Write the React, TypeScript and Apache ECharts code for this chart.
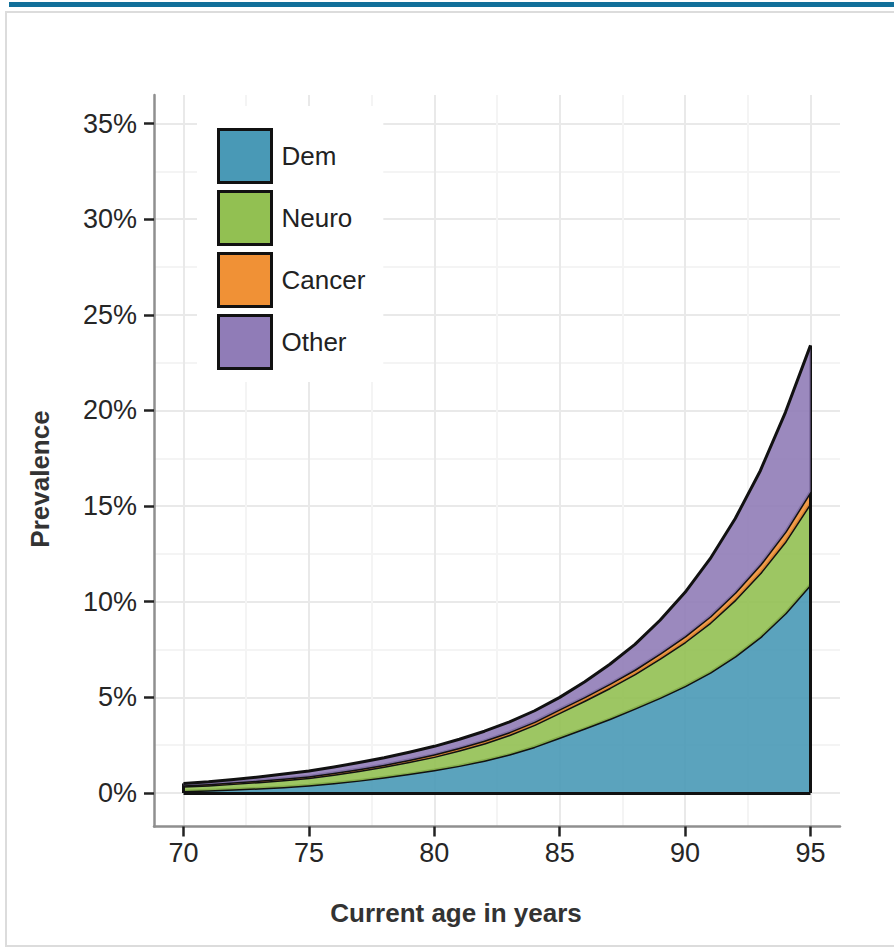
import { useEffect, useRef } from 'react';
import * as echarts from 'echarts';

// Age (years) on the x axis
const ages = ['70', '71', '72', '73', '74', '75', '76', '77', '78', '79', '80', '81', '82', '83', '84', '85', '86', '87', '88', '89', '90', '91', '92', '93', '94', '95'];
// Prevalence (%) of each layer, stacked in this order
const dem = [0.10, 0.14, 0.19, 0.25, 0.32, 0.40, 0.52, 0.66, 0.82, 1.00, 1.20, 1.43, 1.70, 2.02, 2.42, 2.90, 3.38, 3.88, 4.42, 4.98, 5.60, 6.30, 7.15, 8.15, 9.40, 10.90];
const neuro = [0.25, 0.27, 0.30, 0.33, 0.36, 0.40, 0.45, 0.50, 0.56, 0.63, 0.70, 0.80, 0.90, 1.02, 1.15, 1.30, 1.45, 1.62, 1.80, 2.05, 2.30, 2.60, 2.95, 3.35, 3.75, 4.25];
const cancer = [0.06, 0.06, 0.07, 0.07, 0.08, 0.08, 0.09, 0.10, 0.10, 0.11, 0.12, 0.13, 0.14, 0.15, 0.16, 0.18, 0.19, 0.21, 0.23, 0.26, 0.29, 0.33, 0.38, 0.44, 0.51, 0.60];
const other = [0.09, 0.12, 0.15, 0.19, 0.23, 0.27, 0.30, 0.33, 0.36, 0.39, 0.42, 0.45, 0.49, 0.53, 0.57, 0.62, 0.80, 1.02, 1.32, 1.74, 2.30, 3.02, 3.87, 4.91, 6.24, 7.65];

const seriesNames = ['Dem', 'Neuro', 'Cancer', 'Other'];
const seriesColors = ['#4999b6', '#92c052', '#f09136', '#907cb7'];
const xTicks = { min: 70, max: 95, step: 5 };
const yTicks = { min: 0, max: 35, step: 5 };

export default function App() {
  const ref = useRef<HTMLDivElement>(null);
  useEffect(() => {
    const chart = echarts.init(ref.current!, null, { renderer: 'svg' });
    const font = '"Liberation Sans", Arial, Helvetica, sans-serif';
    const layers = [dem, neuro, cancer, other];
    const last = ages.length - 1;
    const total0 = layers.reduce((s, a) => s + a[0], 0);
    const totalN = layers.reduce((s, a) => s + a[last], 0);

    const panel = { left: 154, top: 95, width: 686, height: 731.5 };
    const inner = { left: 183.5, top: 123.5, width: 627, height: 669.5 };

    const series: any[] = layers.map((vals, k) => ({
      type: 'line',
      name: seriesNames[k],
      stack: 'total',
      xAxisIndex: 3,
      yAxisIndex: 3,
      data: vals.slice(),
      symbol: 'none',
      showSymbol: false,
      smooth: false,
      color: seriesColors[k],
      lineStyle: { color: '#111', width: 3, join: 'round' },
      areaStyle: { color: seriesColors[k], opacity: 0.9 },
      emphasis: { disabled: true },
      silent: true,
      z: 2 + k,
    }));
    series[3].markLine = {
      silent: true,
      symbol: ['none', 'none'],
      label: { show: false },
      emphasis: { disabled: true },
      lineStyle: { color: '#111', width: 3, type: 'solid' },
      data: [
        [{ coord: [ages[0], 0] }, { coord: [ages[last], 0] }],
        [{ coord: [ages[last], 0] }, { coord: [ages[last], totalN] }],
        [{ coord: [ages[0], 0] }, { coord: [ages[0], total0] }],
      ],
    };

    const hidden = { show: false };

    const option: any = {
      animation: false,
      backgroundColor: '#ffffff',
      textStyle: { fontFamily: font },
      grid: [
        { ...panel },
        { left: panel.left, width: panel.width, top: inner.top, height: inner.height },
        { left: inner.left, width: inner.width, top: panel.top, height: panel.height },
        { ...inner },
      ],
      xAxis: [
        {
          gridIndex: 0, type: 'value', min: 0, max: 1,
          axisLine: { show: true, onZero: false, lineStyle: { color: '#8f8f8f', width: 2.5 } },
          axisTick: hidden, axisLabel: hidden, splitLine: hidden,
        },
        { gridIndex: 1, type: 'value', min: 0, max: 1, show: false },
        {
          gridIndex: 2, type: 'value', min: xTicks.min, max: xTicks.max, interval: xTicks.step,
          axisLine: { show: false },
          axisTick: { show: true, length: 10, lineStyle: { color: '#222', width: 2.5 } },
          axisLabel: { show: true, fontSize: 27, color: '#262626', margin: 13, fontFamily: font },
          splitLine: { show: true, lineStyle: { color: '#e9e9e9', width: 2 } },
          minorTick: { show: false, splitNumber: 2 },
          minorSplitLine: { show: true, lineStyle: { color: '#f4f4f4', width: 2 } },
        },
        { gridIndex: 3, type: 'category', data: ages, boundaryGap: false, show: false },
      ],
      yAxis: [
        {
          gridIndex: 0, type: 'value', min: 0, max: 1,
          axisLine: { show: true, onZero: false, lineStyle: { color: '#8f8f8f', width: 2.5 } },
          axisTick: hidden, axisLabel: hidden, splitLine: hidden,
        },
        {
          gridIndex: 1, type: 'value', min: yTicks.min, max: yTicks.max, interval: yTicks.step,
          axisLine: { show: false },
          axisTick: { show: true, length: 10, lineStyle: { color: '#222', width: 2.5 } },
          axisLabel: { show: true, fontSize: 27, color: '#262626', margin: 17, fontFamily: font, formatter: '{value}%' },
          splitLine: { show: true, lineStyle: { color: '#e9e9e9', width: 2 } },
          minorTick: { show: false, splitNumber: 2 },
          minorSplitLine: { show: true, lineStyle: { color: '#f4f4f4', width: 2 } },
        },
        { gridIndex: 2, type: 'value', min: 0, max: 1, show: false },
        { gridIndex: 3, type: 'value', min: yTicks.min, max: yTicks.max, show: false },
      ],
      legend: {
        orient: 'vertical',
        left: 197,
        top: 106,
        padding: [22, 18, 12, 20],
        backgroundColor: '#ffffff',
        itemWidth: 53,
        itemHeight: 53,
        itemGap: 6,
        icon: 'rect',
        selectedMode: false,
        textStyle: { fontSize: 26, color: '#222', fontFamily: font, padding: [0, 0, 0, 5] },
        data: seriesNames.map((n, k) => ({
          name: n,
          itemStyle: { color: seriesColors[k], borderColor: '#111', borderWidth: 3 },
        })),
      },
      graphic: [
        { type: 'rect', shape: { x: 9, y: 2, width: 890, height: 5 }, style: { fill: '#12709a' }, silent: true },
        { type: 'rect', shape: { x: 6, y: 12, width: 900, height: 934 }, style: { fill: 'none', stroke: '#dcdcdc', lineWidth: 2 }, silent: true },
        {
          type: 'text', x: 40, y: 479, rotation: Math.PI / 2,
          style: { text: 'Prevalence', font: `bold 26px ${font}`, fill: '#333', align: 'center', verticalAlign: 'middle' },
          silent: true,
        },
        {
          type: 'text', x: 456, y: 913,
          style: { text: 'Current age in years', font: `bold 26px ${font}`, fill: '#333', align: 'center', verticalAlign: 'middle' },
          silent: true,
        },
      ],
      series,
    };
    chart.setOption(option);
    return () => chart.dispose();
  }, []);
  return <div ref={ref} style={{ position: 'absolute', left: 0, top: 0, width: 894, height: 948 }} />;
}
